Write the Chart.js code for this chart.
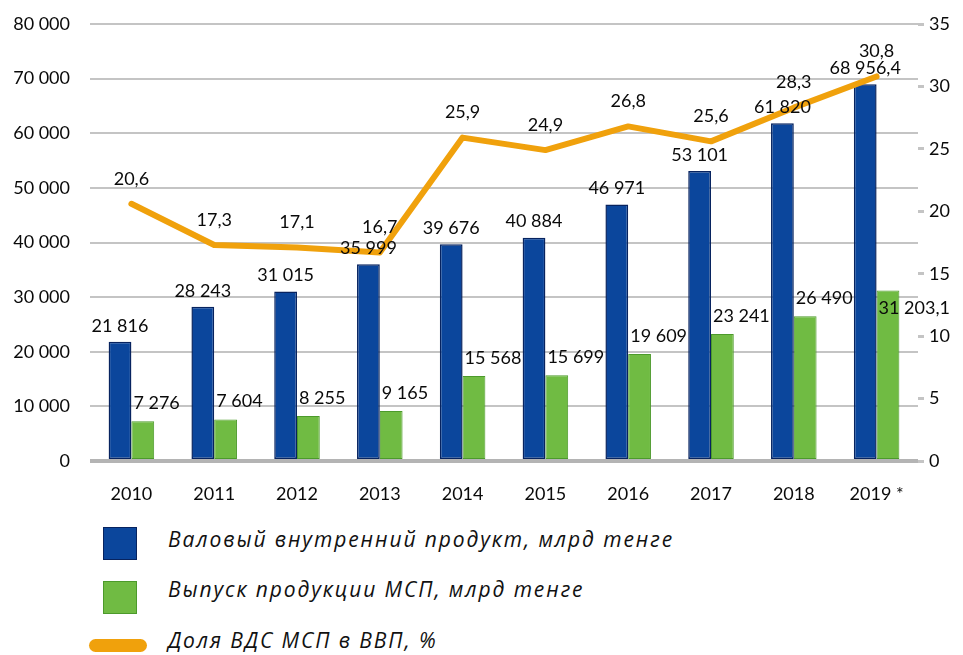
<!DOCTYPE html>
<html>
<head>
<meta charset="utf-8">
<script src="https://cdn.jsdelivr.net/npm/chart.js@4/dist/chart.umd.min.js"></script>
<style>
  body { margin: 0; background: #fff; }
  .wrap { position: relative; width: 963px; height: 655px; }
  .chart { position: absolute; left: 0; top: 0; width: 963px; height: 510px; }
  .legend { position: absolute; left: 0; top: 0; }
  .item { position: absolute; left: 0; height: 40px; display: flex; align-items: center; }
  .sw { position: absolute; box-sizing: border-box; }
  .txt { position: absolute; left: 168px; font-family: "Open Sans", sans-serif; font-style: italic;
         font-size: 21px; color: #111; white-space: nowrap; letter-spacing: 1.9px; }
</style>
</head>
<body>
<div class="wrap">
  <div class="chart"><canvas id="myChart"></canvas></div>
  <div class="legend"></div>
</div>
<script>
// values
const years = ['2010', '2011', '2012', '2013', '2014', '2015', '2016', '2017', '2018', '2019 *'];
const gdp = [21816, 28243, 31015, 35999, 39676, 40884, 46971, 53101, 61820, 68956.4];
const smeOutput = [7276, 7604, 8255, 9165, 15568, 15699, 19609, 23241, 26490, 31203.1];
const smeShare = [20.6, 17.3, 17.1, 16.7, 25.9, 24.9, 26.8, 25.6, 28.3, 30.8];

const seriesNames = [
  'Валовый внутренний продукт, млрд тенге',
  'Выпуск продукции МСП, млрд тенге',
  'Доля ВДС МСП в ВВП, %'
];

const BLUE = '#0b469c';
const BLUE_EDGE = '#07235f';
const GREEN = '#70bb43';
const GREEN_EDGE = '#4c9a2b';
const ORANGE = '#f0a10c';
const FONT = 'Lato, "Open Sans", sans-serif';

// 21816 -> "21 816", 68956.4 -> "68 956,4"
function fmt(v) {
  let parts = String(v).split('.');
  let s = parts[0].replace(/\B(?=(\d{3})+(?!\d))/g, ' ');
  return parts.length > 1 ? s + ',' + parts[1] : s;
}

const valueLabels = {
  id: 'valueLabels',
  afterDatasetsDraw(chart) {
    const ctx = chart.ctx;
    const area = chart.chartArea;
    ctx.save();
    ctx.font = '18px ' + FONT;
    ctx.fillStyle = '#0a0a0a';
    ctx.textBaseline = 'middle';
    chart.data.datasets.forEach((ds, di) => {
      const meta = chart.getDatasetMeta(di);
      meta.data.forEach((el, i) => {
        const txt = fmt(ds.data[i]);
        if (di === 0) {
          ctx.textAlign = 'center';
          ctx.fillText(txt, el.x, el.y - 16);
        } else if (di === 1) {
          ctx.textAlign = 'left';
          const x = el.x - el.width / 2 + 2;
          const w = ctx.measureText(txt).width;
          // no room above on the right edge: put it over the bar
          const y = (x + w > area.right + 10) ? el.y + 18 : el.y - 18;
          ctx.fillText(txt, x, y);
        } else {
          ctx.textAlign = 'center';
          ctx.fillText(txt, el.x, el.y - 25);
        }
      });
    });
    ctx.restore();
  }
};

const data = {
  labels: years,
  datasets: [
    {
      type: 'bar',
      label: seriesNames[0],
      data: gdp,
      backgroundColor: BLUE,
      borderColor: BLUE_EDGE,
      borderWidth: 1.5,
      borderSkipped: false,
      yAxisID: 'y',
      order: 2,
    },
    {
      type: 'bar',
      label: seriesNames[1],
      data: smeOutput,
      backgroundColor: GREEN,
      borderColor: GREEN_EDGE,
      borderWidth: 1,
      borderSkipped: false,
      yAxisID: 'y',
      order: 2,
    },
    {
      type: 'line',
      label: seriesNames[2],
      data: smeShare,
      borderColor: ORANGE,
      borderWidth: 6,
      borderCapStyle: 'round',
      borderJoinStyle: 'round',
      pointRadius: 0,
      tension: 0,
      yAxisID: 'y1',
      order: 1,
    }
  ]
};

// fixed axis boxes so the plot area lands where the picture has it
function fitVertical(width) {
  return (s) => {
    s.width = width;
    s.paddingTop = 0;
    s.paddingBottom = 0;
  };
}

const config = {
  data: data,
  plugins: [valueLabels],
  options: {
    responsive: true,
    maintainAspectRatio: false,
    animation: false,
    layout: { padding: { top: 24, left: 0, right: 0, bottom: 0 } },
    datasets: {
      bar: { categoryPercentage: 0.55, barPercentage: 1.0 }
    },
    plugins: {
      legend: { display: false },
      tooltip: { enabled: false },
    },
    scales: {
      x: {
        grid: { display: false },
        border: { display: false },
        ticks: { color: '#0a0a0a', font: { family: FONT, size: 18 }, padding: 14 },
        afterFit: (s) => { s.height = 49; },
      },
      y: {
        position: 'left',
        min: 0,
        max: 80000,
        ticks: {
          stepSize: 10000,
          color: '#0a0a0a',
          padding: 20,
          font: { family: FONT, size: 18 },
          callback: (v) => fmt(v),
        },
        grid: {
          drawTicks: false,
          color: (c) => c.tick.value === 0 ? '#b4b4b4' : '#c4c4c4',
          lineWidth: (c) => c.tick.value === 0 ? 4 : 2,
        },
        border: { display: false },
        afterFit: fitVertical(90),
      },
      y1: {
        position: 'right',
        min: 0,
        max: 35,
        ticks: {
          stepSize: 5,
          color: '#0a0a0a',
          padding: 5,
          font: { family: FONT, size: 18 },
        },
        grid: {
          drawOnChartArea: false,
          tickLength: 6,
          color: '#c4c4c4',
          lineWidth: 3,
        },
        border: { display: false },
        afterFit: fitVertical(45),
      }
    }
  }
};

const ctx = document.getElementById('myChart').getContext('2d');
const myChart = new Chart(ctx, config);

// legend, one row per series
const legendRows = [
  { top: 522, sw: { left: 103, top: 5, width: 34, height: 33, background: BLUE, border: '1.5px solid ' + BLUE_EDGE } },
  { top: 572, sw: { left: 103, top: 9, width: 34, height: 33, background: GREEN, border: '1.5px solid ' + GREEN_EDGE } },
  { top: 623, sw: { left: 89, top: 16, width: 58, height: 13, background: ORANGE, radius: 7 } },
];
const legendBox = document.querySelector('.legend');
legendRows.forEach((r, i) => {
  const row = document.createElement('div');
  row.className = 'item';
  row.style.top = r.top + 'px';
  const sw = document.createElement('div');
  sw.className = 'sw';
  sw.style.left = r.sw.left + 'px';
  sw.style.top = r.sw.top + 'px';
  sw.style.width = r.sw.width + 'px';
  sw.style.height = r.sw.height + 'px';
  sw.style.background = r.sw.background;
  if (r.sw.border) sw.style.border = r.sw.border;
  if (r.sw.radius) sw.style.borderRadius = r.sw.radius + 'px';
  const t = document.createElement('div');
  t.className = 'txt';
  t.textContent = seriesNames[i];
  t.style.top = '3px';
  row.appendChild(sw);
  row.appendChild(t);
  legendBox.appendChild(row);
});
</script>
</body>
</html>
